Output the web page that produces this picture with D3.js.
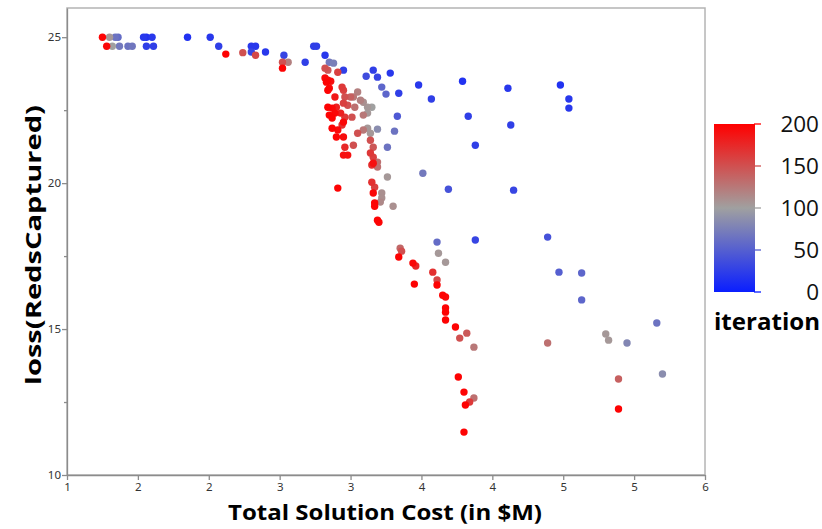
<!DOCTYPE html>
<html><head><meta charset="utf-8">
<script src="https://cdn.jsdelivr.net/npm/d3@7"></script>
<style>body{margin:0;background:#fff}svg{display:block}</style>
</head><body>
<svg id="c" width="822" height="529"></svg>
<script>
// Data: [cost ($M), loss(RedsCaptured), iteration]
const cost = [1.25,1.30,1.34,1.36,1.28,1.32,1.37,1.43,1.46,1.54,1.56,1.60,1.56,1.61,1.85,2.01,2.07,2.12,2.24,2.30,2.33,2.30,2.33,2.40,2.52,2.56,2.53,2.52,2.68,2.74,2.76,2.82,2.85,2.88,2.95,
2.82,2.84,2.91,2.82,2.84,2.83,2.86,2.85,2.84,2.94,2.95,2.89,2.96,3.00,3.02,3.05,2.84,2.87,2.90,2.95,2.98,3.03,3.07,3.09,3.12,3.15,2.85,2.89,2.93,2.87,2.96,3.01,3.09,3.12,2.95,2.94,2.87,2.91,3.05,3.09,3.12,3.14,3.19,2.90,2.95,2.96,3.02,3.14,3.16,2.95,2.98,3.14,3.26,3.16,3.19,
3.16,3.19,3.11,3.28,3.22,3.25,3.34,3.48,3.33,3.31,3.57,3.79,4.11,4.48,4.54,4.54,3.83,4.13,3.88,3.51,3.69,4.15,
3.16,3.15,3.19,3.26,3.15,3.17,2.91,3.16,3.22,3.22,3.17,3.21,3.17,3.30,3.19,3.20,
3.61,3.88,3.35,3.36,3.34,3.62,3.67,3.44,3.46,3.58,3.61,3.61,3.45,3.65,3.67,3.67,3.67,3.67,3.74,3.82,3.77,3.87,3.76,3.80,3.87,3.84,3.81,3.80,
4.39,4.47,4.63,4.63,5.16,4.80,4.82,4.95,4.39,5.20,4.89,4.89];
const loss = [25.00,25.00,25.00,25.00,24.69,24.69,24.69,24.69,24.69,25.00,25.00,25.00,24.69,24.69,25.00,25.00,24.69,24.42,24.47,24.69,24.69,24.49,24.38,24.49,24.14,24.14,24.38,23.94,24.14,24.69,24.69,24.38,24.14,24.11,23.87,
23.94,23.87,23.80,23.60,23.53,23.46,23.49,23.25,23.18,23.29,23.18,22.95,22.95,22.95,22.95,23.12,22.60,22.57,22.60,22.74,22.67,22.60,22.84,22.77,22.60,22.60,22.33,22.40,22.40,22.23,22.26,22.26,22.33,22.40,22.09,21.99,21.88,21.82,21.71,21.82,21.88,21.71,21.85,21.58,21.58,21.23,21.30,21.47,21.23,20.96,20.96,21.03,21.23,20.68,20.72,
23.87,23.63,23.66,23.77,23.29,23.05,23.08,23.36,22.29,21.78,22.88,23.49,23.25,23.36,22.88,22.57,22.29,21.99,21.30,20.34,19.79,19.76,
20.89,20.62,20.55,20.21,20.03,19.86,19.83,19.66,19.66,19.49,19.32,19.35,19.21,19.21,18.73,18.66,
17.98,18.05,17.77,17.67,17.47,17.60,17.29,17.26,17.16,16.95,16.68,16.51,16.54,16.16,16.10,15.72,15.58,15.31,15.07,14.86,14.69,14.38,13.36,12.84,12.64,12.50,12.40,11.47,
18.15,16.95,16.92,16.00,15.21,14.83,14.62,14.52,14.52,13.46,13.29,12.26];
const iteration = [198,105,65,60,195,100,70,65,68,20,15,20,25,25,15,20,25,198,150,20,20,30,155,20,150,120,30,198,25,25,25,20,70,75,25,
150,145,160,195,195,198,190,195,198,165,160,185,150,140,125,120,198,195,180,160,150,130,120,110,105,100,198,195,180,198,165,150,125,105,195,170,198,195,150,125,105,105,85,198,192,175,150,150,145,190,190,165,65,190,130,
25,30,35,20,55,55,25,20,45,65,25,15,20,15,20,20,25,25,25,70,40,30,
160,170,130,105,170,160,198,195,110,110,198,115,198,110,198,195,
60,30,135,150,198,105,105,195,175,170,155,198,198,198,195,198,198,198,198,145,150,125,198,198,130,165,198,198,
40,50,55,55,65,105,105,80,130,85,140,198];

const xTicks = [1,1.5,2,2.5,3,3.5,4,4.5,5,5.5];
const xTickLabels = ["1","2","2","3","3","4","4","5","5","6"];
const yTicks = [10,15,20,25];
const yMinorTicks = [12.5,17.5,22.5];
const legendTicks = [0,50,100,150,200];

const svg = d3.select("#c");
const L = 67, R = 705, T = 8, B = 475;
const x = d3.scaleLinear().domain([1,5.5]).range([L,R]);
const y = d3.scaleLinear().domain([10,26]).range([B,T]);
const color = d3.scaleLinear().domain([0,100,200]).range(["#0a1eff","#a0a0a0","#ff0000"]);

// frame
svg.append("rect").attr("x",L).attr("y",T).attr("width",R-L).attr("height",B-T)
  .attr("fill","none").attr("stroke","#b4b4b4").attr("stroke-width",1.5);

// x axis
const xa = svg.append("g").attr("transform",`translate(0,${B})`)
  .call(d3.axisBottom(x).tickValues(xTicks).tickFormat((d,i)=>xTickLabels[i]).tickSize(5).tickSizeOuter(0));
// y axis
const ya = svg.append("g").attr("transform",`translate(${L},0)`)
  .call(d3.axisLeft(y).tickValues(yTicks).tickSize(5).tickSizeOuter(0));
svg.append("g").attr("transform",`translate(${L},0)`)
  .call(d3.axisLeft(y).tickValues(yMinorTicks).tickSize(3).tickFormat("").tickSizeOuter(0))
  .select(".domain").remove();
svg.selectAll(".domain,.tick line").attr("stroke","#8c8c8c").attr("stroke-width",1.3);
svg.selectAll(".tick text").attr("font-family","Noto Sans, sans-serif").attr("font-size",11.5).attr("fill","#333");
ya.selectAll(".tick text").attr("x",-6);

// points
const data = cost.map((c,i)=>({c, l:loss[i], it:iteration[i]}));
data.sort((a,b)=>a.it-b.it);
svg.append("g").selectAll("circle").data(data).join("circle")
  .attr("cx",d=>x(d.c)).attr("cy",d=>y(d.l)).attr("r",3.7)
  .attr("fill",d=>color(d.it));

// axis titles
svg.append("text").attr("x",385).attr("y",520).attr("text-anchor","middle")
  .attr("font-family","Open Sans, sans-serif").attr("font-weight","bold").attr("font-size",21.5)
  .attr("textLength",314).attr("lengthAdjust","spacingAndGlyphs")
  .attr("fill","#000").text("Total Solution Cost (in $M)");
svg.append("text").attr("transform","translate(41,245) rotate(-90)").attr("text-anchor","middle")
  .attr("font-family","Open Sans, sans-serif").attr("font-weight","bold").attr("font-size",22)
  .attr("textLength",280).attr("lengthAdjust","spacingAndGlyphs")
  .attr("fill","#000").text("loss(RedsCaptured)");

// legend
const lx = 714, lw = 41, lt = 124, lb = 292;
const defs = svg.append("defs");
const grad = defs.append("linearGradient").attr("id","g").attr("x1",0).attr("y1",1).attr("x2",0).attr("y2",0);
[0,50,100,150,200].forEach(v=>grad.append("stop").attr("offset",v/200).attr("stop-color",color(v)));
svg.append("rect").attr("x",lx).attr("y",lt).attr("width",lw).attr("height",lb-lt).attr("fill","url(#g)");
const ly = d3.scaleLinear().domain([0,200]).range([lb,lt]);
const lg = svg.append("g");
lg.selectAll("line").data(legendTicks).join("line")
  .attr("x1",lx+lw-1).attr("x2",lx+lw+6).attr("y1",d=>ly(d)).attr("y2",d=>ly(d))
  .attr("stroke",d=>color(d)).attr("stroke-width",1.3);
lg.selectAll("text").data(legendTicks).join("text")
  .attr("x",819).attr("y",d=>ly(d)+8).attr("text-anchor","end")
  .attr("font-family","Open Sans, sans-serif").attr("font-size",22.5).attr("fill","#111").text(d=>d);
svg.append("text").attr("x",714).attr("y",330)
  .attr("font-family","Open Sans, sans-serif").attr("font-weight","bold").attr("font-size",22.5)
  .attr("textLength",106).attr("lengthAdjust","spacingAndGlyphs")
  .attr("fill","#000").text("iteration");
</script>
</body></html>
